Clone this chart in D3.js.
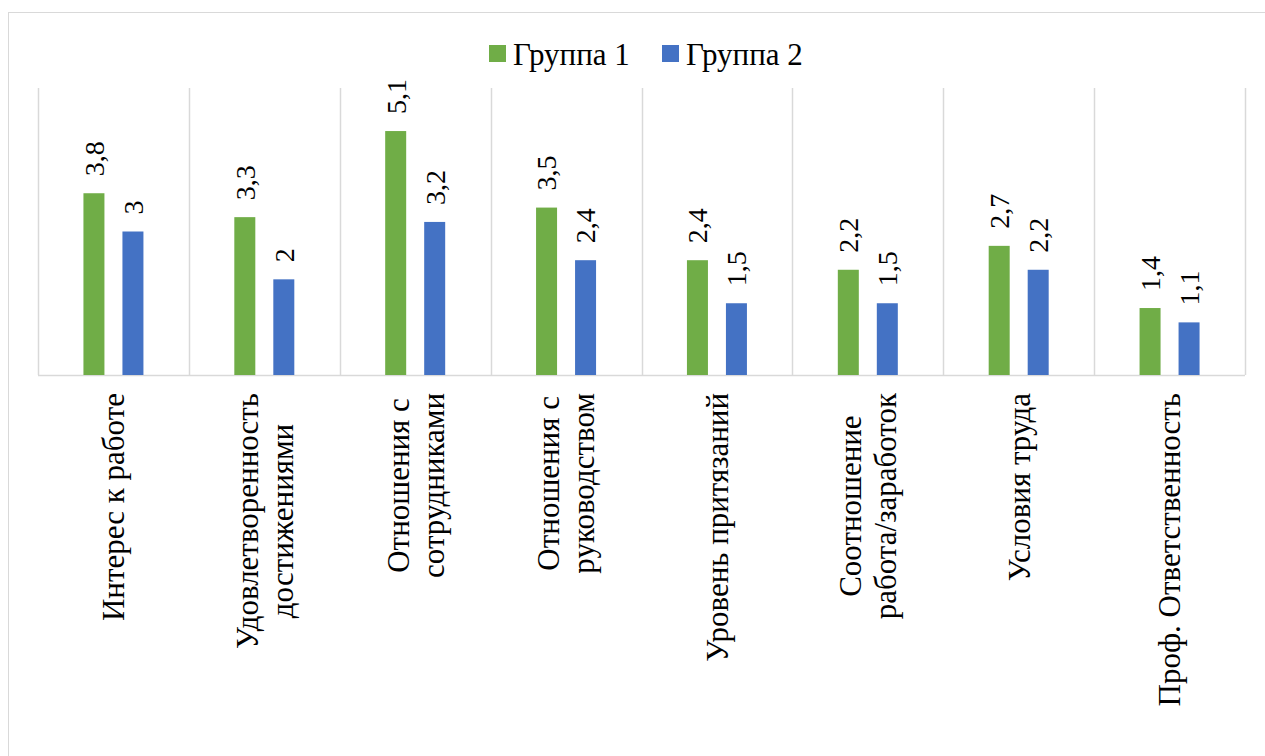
<!DOCTYPE html>
<html>
<head>
<meta charset="utf-8"/>
<script src="https://d3js.org/d3.v7.min.js"></script>
</head>
<body style="margin:0">
<script>
  // data
  var categories = [
    ["Интерес к работе"],
    ["Удовлетворенность", "достижениями"],
    ["Отношения с", "сотрудниками"],
    ["Отношения с", "руководством"],
    ["Уровень притязаний"],
    ["Соотношение", "работа/заработок"],
    ["Условия труда"],
    ["Проф. Ответственность"]
  ];
  var groups = ["Группа 1", "Группа 2"];
  var group1 = [3.8, 3.3, 5.1, 3.5, 2.4, 2.2, 2.7, 1.4];
  var group2 = [3.0, 2.0, 3.2, 2.4, 1.5, 1.5, 2.2, 1.1];
  var colors = ["#70ad47", "#4472c4"];

  var width = 1265, height = 756;
  var m = {top: 88, left: 38, right: 20, bottom: 381};
  var fontSize = 31, valueSize = 28;
  var serif = "'Liberation Serif'";

  var svg = d3.select("body").append("svg")
    .attr("width", width)
    .attr("height", height);

  // outer chart border
  svg.append("rect")
    .attr("x", 8.5).attr("y", 12.5)
    .attr("width", width).attr("height", height)
    .attr("fill", "none")
    .attr("stroke", "#d9d9d9");

  var rows = categories.map(function(c, i) {
    return {name: c.join(" "), lines: c, values: [group1[i], group2[i]]};
  });

  var x0 = d3.scaleBand()
    .domain(rows.map(function(d) { return d.name; }))
    .range([m.left, width - m.right])
    .padding(0);

  var x1 = d3.scaleBand()
    .domain(d3.range(groups.length))
    .range([x0.bandwidth() / 2 - 30, x0.bandwidth() / 2 + 30])
    .paddingInner(18 / 39);

  var y = d3.scaleLinear()
    .domain([0, 6])
    .range([height - m.bottom, m.top]);

  // vertical gridlines between categories
  var bounds = rows.map(function(d) { return x0(d.name); }).concat([x0.range()[1]]);
  svg.append("g")
    .selectAll("line")
    .data(bounds)
    .enter().append("line")
      .attr("x1", function(d) { return Math.round(d) + 0.5; })
      .attr("x2", function(d) { return Math.round(d) + 0.5; })
      .attr("y1", y(6))
      .attr("y2", y(0))
      .attr("stroke", "#d9d9d9")
      .attr("stroke-width", 1.5);

  // baseline
  svg.append("line")
    .attr("x1", x0.range()[0]).attr("x2", x0.range()[1])
    .attr("y1", y(0) + 0.5).attr("y2", y(0) + 0.5)
    .attr("stroke", "#d9d9d9")
    .attr("stroke-width", 1.5);

  // bars
  var cat = svg.append("g")
    .selectAll("g")
    .data(rows)
    .enter().append("g")
      .attr("transform", function(d) { return "translate(" + x0(d.name) + ",0)"; });

  var bar = cat.selectAll("g")
    .data(function(d) { return d.values.map(function(v, i) { return {i: i, v: v}; }); })
    .enter().append("g");

  bar.append("rect")
    .attr("x", function(d) { return x1(d.i); })
    .attr("y", function(d) { return y(d.v); })
    .attr("width", x1.bandwidth())
    .attr("height", function(d) { return y(0) - y(d.v); })
    .attr("fill", function(d) { return colors[d.i]; });

  // value labels, rotated
  bar.append("text")
    .attr("transform", function(d) {
      return "translate(" + (x1(d.i) + x1.bandwidth() / 2) + "," + (y(d.v) - 17) + ") rotate(-90)";
    })
    .attr("dy", "0.35em")
    .attr("text-anchor", "start")
    .attr("font-family", serif)
    .style("font-family", serif, "important")
    .style("font-size", valueSize + "px")
    .text(function(d) { return String(d.v).replace(".", ","); });

  // category labels, rotated, lines centred on each other
  var labelTop = y(0) + 18;
  var lineH = 35;
  cat.each(function(d) {
    var g = d3.select(this);
    var cx = x0.bandwidth() / 2;
    var n = d.lines.length;
    var t = g.selectAll("text.cat")
      .data(d.lines)
      .enter().append("text")
        .attr("class", "cat")
        .attr("font-family", serif)
        .style("font-family", serif, "important")
        .style("font-size", fontSize + "px")
        .attr("text-anchor", "middle")
        .text(function(s) { return s; });
    var maxLen = d3.max(t.nodes(), function(n) { return n.getComputedTextLength(); });
    t.attr("transform", function(s, j) {
      var lx = cx + (j - (n - 1) / 2) * lineH;
      return "translate(" + lx + "," + (labelTop + maxLen / 2) + ") rotate(-90)";
    })
    .attr("dy", "0.35em");
  });

  // legend
  var legend = svg.append("g")
    .selectAll("g")
    .data(groups)
    .enter().append("g")
      .attr("transform", function(d, i) { return "translate(" + (489 + i * 173) + ",45)"; });

  legend.append("rect")
    .attr("width", 17)
    .attr("height", 17)
    .attr("fill", function(d, i) { return colors[i]; });

  legend.append("text")
    .attr("x", 24)
    .attr("y", 20)
    .attr("font-family", serif)
    .style("font-family", serif, "important")
    .style("font-size", fontSize + "px")
    .text(function(d) { return d; });
</script>
</body>
</html>
